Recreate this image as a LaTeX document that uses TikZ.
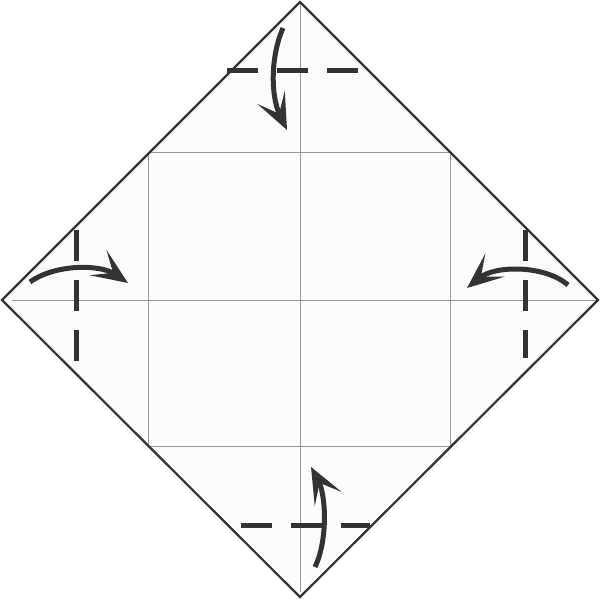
\documentclass[tikz,border=0pt]{standalone}
\usetikzlibrary{arrows.meta}
\tikzset{
	fold/.style={draw=black!80,line width=5pt,dash pattern=on 31pt off 19pt},
	crease/.style={draw=black!40,line width=0.8pt},
	turn/.style={draw=black!80,line width=5pt,-{Stealth[length=36pt,width=30pt,inset=18pt]}}
}
\begin{document}
\begin{tikzpicture}[x=1pt,y=-1pt]
			\useasboundingbox(0,0)rectangle(600,601);
			\path[save path=\paper](300,2)--(598,300)--(300,597)--(2,300)--cycle;
			\fill[black!1][use path=\paper];
			% creases
			\draw[crease](12,300)--(597,300);
			\draw[crease](300,2)--(300,592);
			\draw[crease](148,152)rectangle(450,446);
			\draw[black!80,line width=2.2pt,line join=miter][use path=\paper];
			% valley folds
			\draw[fold](227,71)--(358,71);
			\draw[fold](241,525)--(370,525);
			\draw[fold](76,230)--(76,361);
			\draw[fold](525,230)--(525,358);
			% arrows
			\draw[turn](283,28)..controls(271,55)and(270,95)..(287,130);
			\draw[turn](315,567)..controls(328,540)and(326,495)..(311,467);
			\draw[turn](30,282)..controls(55,264)and(100,264)..(128,283);
			\draw[turn](568,285)..controls(545,265)and(495,265)..(467,288);
		\end{tikzpicture}
\end{document}
